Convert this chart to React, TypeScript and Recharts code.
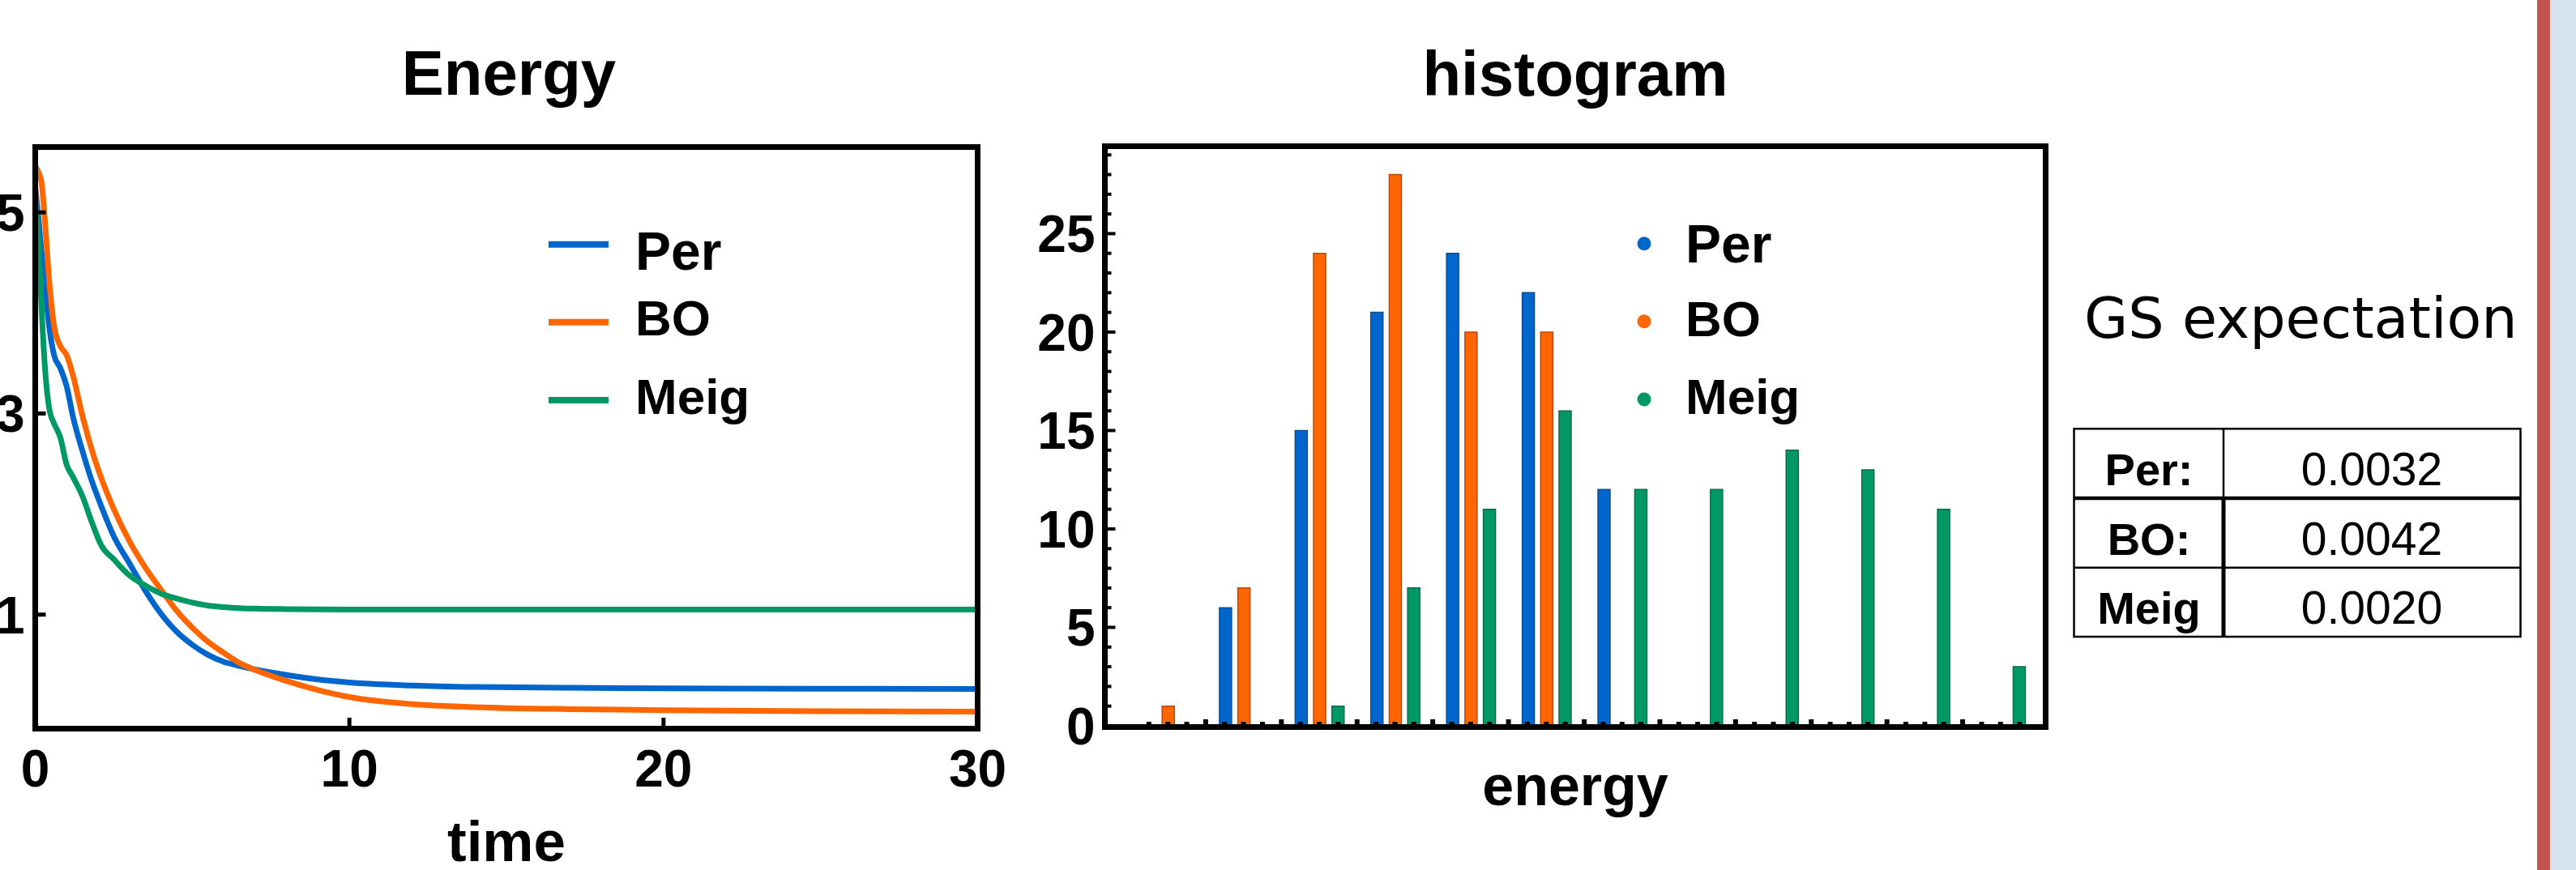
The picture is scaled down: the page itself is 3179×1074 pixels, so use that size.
import React from 'react';
import { LineChart, Line, XAxis, YAxis, BarChart, Bar } from 'recharts';

// ---- Energy vs time ----
const times = [0, 0.1, 0.2, 0.3, 0.45, 0.6, 0.8, 1, 1.2, 1.5, 1.8, 2.1, 2.5, 3, 3.5, 4, 4.5, 5, 5.5, 6, 6.5, 7, 8, 9, 10, 12, 14, 17, 20, 25, 30];
const perEnergy = [5.25, 4.95, 4.6, 4.3, 3.85, 3.58, 3.45, 3.27, 2.97, 2.63, 2.33, 2.08, 1.78, 1.51, 1.24, 1.01, 0.83, 0.7, 0.6, 0.53, 0.49, 0.455, 0.4, 0.355, 0.325, 0.295, 0.28, 0.272, 0.267, 0.263, 0.26];
const boEnergy = [5.46, 5.4, 5.3, 4.95, 4.3, 3.87, 3.67, 3.58, 3.38, 2.98, 2.64, 2.36, 2.05, 1.73, 1.47, 1.25, 1.04, 0.87, 0.73, 0.62, 0.52, 0.45, 0.34, 0.25, 0.18, 0.11, 0.08, 0.06, 0.05, 0.04, 0.035];
const meigEnergy = [5.2, 4.7, 4.05, 3.5, 3.04, 2.9, 2.76, 2.49, 2.37, 2.18, 1.92, 1.69, 1.55, 1.39, 1.29, 1.21, 1.16, 1.12, 1.09, 1.075, 1.065, 1.06, 1.055, 1.052, 1.05, 1.05, 1.05, 1.05, 1.05, 1.05, 1.05];
const timeTicks = [0, 10, 20, 30];
const energyTicks = [1, 3, 5];

// ---- histogram ----
const energyBins = [0, 1, 2, 3, 4, 5, 6, 7, 8, 9, 10, 11];
const perCounts = [0, 6, 15, 21, 24, 22, 12, 0, 0, 0, 0, 0];
const boCounts = [1, 7, 24, 28, 20, 20, 0, 0, 0, 0, 0, 0];
const meigCounts = [0, 0, 1, 7, 11, 16, 12, 12, 14, 13, 11, 3];
const countTicks = [0, 1, 2, 3, 4, 5, 6, 7, 8, 9, 10, 11, 12, 13, 14, 15, 16, 17, 18, 19, 20, 21, 22, 23, 24, 25, 26, 27, 28, 29];

// ---- GS expectation table ----
const gsLabels = ['Per:', 'BO:', 'Meig'];
const gsValues = ['0.0032', '0.0042', '0.0020'];

const seriesNames = ['Per', 'BO', 'Meig'];
const seriesKeys = ['per', 'bo', 'meig'];
const colors = ['#0066CC', '#FF6600', '#009966'];
const edgeColors = ['#0a4f96', '#b84a06', '#0b6b4a'];

const FONT = "'Liberation Sans', Arial, Helvetica, sans-serif";

const lineData = times.map((t, i) => ({ t, per: perEnergy[i], bo: boEnergy[i], meig: meigEnergy[i] }));
const histData = energyBins.map((bin, i) => ({ bin, per: perCounts[i], bo: boCounts[i], meig: meigCounts[i] }));

// histogram plot geometry (chart-local)
const HIST_W = 1300;
const HIST_AXIS_W = 103.5;
const HIST_RIGHT = 35.5;
const PAD_L = 31;
const PAD_R = 9;
const BAND = (HIST_W - HIST_AXIS_W - HIST_RIGHT - PAD_L - PAD_R) / energyBins.length;

function TimeTick(props: any) {
  const { x, y, payload } = props;
  const v = payload.value;
  return (
    <g>
      {v > 0 && v < 30 && <line x1={x} x2={x} y1={y} y2={y - 13} stroke="#000" strokeWidth={5} />}
      <text x={x} y={y + 72} textAnchor="middle" fontFamily={FONT} fontWeight={700} fontSize={64} fill="#000">{v}</text>
    </g>
  );
}

function EnergyTick(props: any) {
  const { x, y, payload } = props;
  return (
    <g>
      <line x1={x} x2={x + 13} y1={y} y2={y} stroke="#000" strokeWidth={5} />
      <text x={x - 13} y={y + 23} textAnchor="end" fontFamily={FONT} fontWeight={700} fontSize={64} fill="#000">{payload.value}</text>
    </g>
  );
}

function CountTick(props: any) {
  const { x, y, payload } = props;
  const major = payload.value % 5 === 0;
  return (
    <g>
      <line x1={x} x2={x + (major ? 13 : 8)} y1={y} y2={y} stroke="#000" strokeWidth={4} />
      {major && (
        <text x={x - 12} y={y + 23} textAnchor="end" fontFamily={FONT} fontWeight={700} fontSize={64} fill="#000">{payload.value}</text>
      )}
    </g>
  );
}

// minor ticks at quarter bins, a slightly taller one between bins
function BinTick(props: any) {
  const { x, y, index } = props;
  const q = BAND / 4;
  const last = index === energyBins.length - 1;
  return (
    <g>
      {[-q, 0, q].map((d) => (
        <line key={d} x1={x + d} x2={x + d} y1={y} y2={y - 5} stroke="#000" strokeWidth={6} />
      ))}
      {!last && <line x1={x + 2 * q} x2={x + 2 * q} y1={y} y2={y - 8} stroke="#000" strokeWidth={6} />}
    </g>
  );
}

const frame = (left: number, top: number, width: number, height: number): React.CSSProperties => ({
  position: 'absolute', left, top, width, height, border: '7px solid #000', boxSizing: 'border-box', pointerEvents: 'none',
});

export default function App() {
  const legendY = [301.7, 397.8, 494];
  const leftLegendBase = [333, 414, 511];
  const histLegendBase = [324, 415, 511];
  const legendSize = [66, 62, 62];
  const rowBase = [599, 685, 770];

  return (
    <div style={{ position: 'fixed', left: 0, top: 0, width: 3179, height: 1074, background: '#fff', overflow: 'hidden' }}>
      <div style={{ position: 'absolute', left: 0, top: 0 }}>
        <LineChart width={1260} height={1074} data={lineData} margin={{ top: 181.5, right: 53.5, bottom: 0, left: 0 }}>
          {seriesKeys.map((k, i) => (
            <Line key={k} type="monotone" dataKey={k} stroke={colors[i]} strokeWidth={7} dot={false} isAnimationActive={false} />
          ))}
          <XAxis dataKey="t" type="number" domain={[0, 30]} ticks={timeTicks} interval={0} allowDataOverflow
            height={175} tickSize={0} tickMargin={0} axisLine={false} tick={<TimeTick />}
            label={{ value: 'time', position: 'insideBottom', offset: 11, fill: '#000', fontSize: 71, fontWeight: 700, fontFamily: FONT }} />
          <YAxis type="number" domain={[-0.13, 5.65]} ticks={energyTicks} interval={0} allowDataOverflow
            width={43.5} tickSize={0} tickMargin={0} axisLine={false} tick={<EnergyTick />} />
        </LineChart>
      </div>
      <div style={frame(40, 178, 1170, 725)} />

      <div style={{ position: 'absolute', left: 1260, top: 0 }}>
        <BarChart width={HIST_W} height={1074} data={histData} barSize={15} barGap={7.7}
          margin={{ top: 180.5, right: HIST_RIGHT, bottom: 0, left: 0 }}>
          {seriesKeys.map((k, i) => (
            <Bar key={k} dataKey={k} fill={colors[i]} stroke={edgeColors[i]} strokeWidth={1.5} isAnimationActive={false} />
          ))}
          <XAxis dataKey="bin" type="category" height={178} interval={0} tickSize={0} tickMargin={0} axisLine={false}
            padding={{ left: PAD_L, right: PAD_R }} tick={<BinTick />}
            label={{ value: 'energy', position: 'insideBottom', offset: 80, fill: '#000', fontSize: 70, fontWeight: 700, fontFamily: FONT }} />
          <YAxis type="number" domain={[0, 29.44]} ticks={countTicks} interval={0} allowDataOverflow
            width={HIST_AXIS_W} tickSize={0} tickMargin={0} axisLine={false} tick={<CountTick />} />
        </BarChart>
      </div>
      <div style={frame(1360, 177, 1168, 724)} />

      <svg width={3179} height={1074} style={{ position: 'absolute', left: 0, top: 0, pointerEvents: 'none' }}>
        <text x={628} y={116.5} textAnchor="middle" fontFamily={FONT} fontWeight={700} fontSize={78}>Energy</text>
        <text x={1944} y={117.5} textAnchor="middle" fontFamily={FONT} fontWeight={700} fontSize={78}>histogram</text>
        {seriesNames.map((name, i) => (
          <g key={name}>
            <line x1={677} x2={751} y1={legendY[i]} y2={legendY[i]} stroke={colors[i]} strokeWidth={8} />
            <text x={784} y={leftLegendBase[i]} fontFamily={FONT} fontWeight={700} fontSize={legendSize[i]}>{name}</text>
            <circle cx={2029} cy={legendY[i] - 1} r={8.5} fill={colors[i]} />
            <text x={2080} y={histLegendBase[i]} fontFamily={FONT} fontWeight={700} fontSize={legendSize[i]}>{name}</text>
          </g>
        ))}
        <text x={2572} y={416.6} fontFamily="'DejaVu Sans', Verdana, sans-serif" fontSize={70}>GS expectation</text>
        {gsLabels.map((lab, i) => (
          <g key={lab}>
            <text x={2652} y={rowBase[i]} textAnchor="middle" fontFamily={FONT} fontWeight={700} fontSize={56}>{lab}</text>
            <text x={2927} y={rowBase[i]} textAnchor="middle" fontFamily={FONT} fontSize={57}>{gsValues[i]}</text>
          </g>
        ))}
        <rect x={2559.5} y={529.3} width={551} height={256.7} fill="none" stroke="#000" strokeWidth={2.5} />
        <line x1={2559.5} x2={3110.5} y1={615} y2={615} stroke="#000" strokeWidth={4.5} />
        <line x1={2559.5} x2={3110.5} y1={700.7} y2={700.7} stroke="#000" strokeWidth={2.5} />
        <line x1={2744} x2={2744} y1={529.3} y2={615} stroke="#000" strokeWidth={2.5} />
        <line x1={2744} x2={2744} y1={615} y2={786} stroke="#000" strokeWidth={5} />
      </svg>

      <div style={{ position: 'absolute', left: 3131, top: 0, width: 16, height: 1074, background: '#c4524f' }} />
      <div style={{ position: 'absolute', left: 3147, top: 0, width: 32, height: 1074, background: '#d6e4f1' }} />
    </div>
  );
}
